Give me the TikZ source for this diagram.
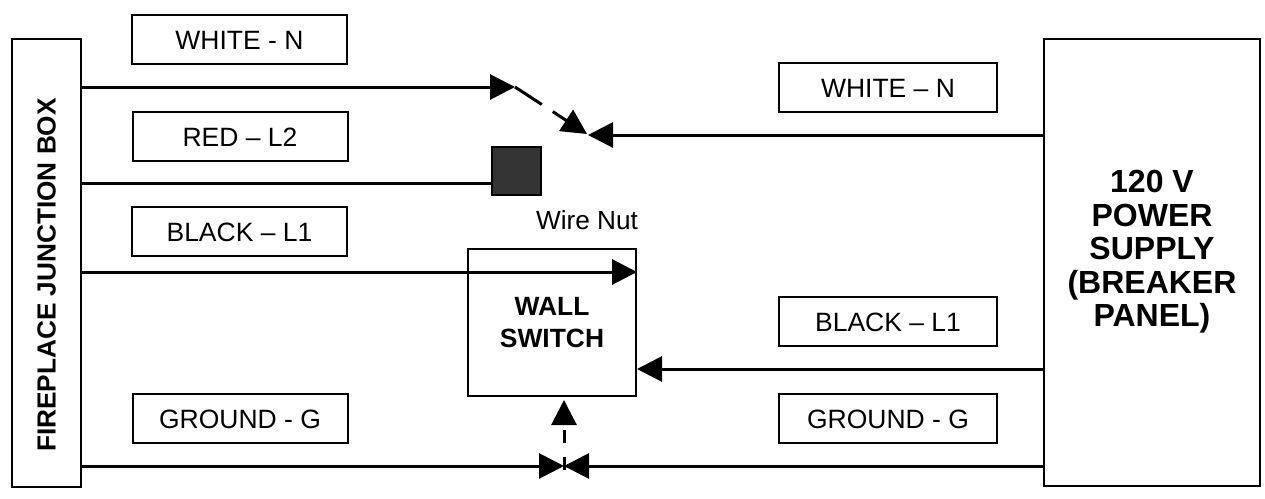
\documentclass[tikz,border=0pt]{standalone}
\usepackage{fontspec}
\setmainfont{Liberation Sans}
\usetikzlibrary{arrows.meta}
\begin{document}
\begin{tikzpicture}[x=1pt,y=-1pt,
  >={Triangle[length=25pt,width=25pt]},
  wire/.style={line width=3pt},
  lbl/.style={draw,line width=2pt,minimum width=215pt,minimum height=49pt,inner sep=0pt,
    font=\fontsize{26.5}{30}\selectfont,text height=20pt,text depth=0pt},
  bigbox/.style={draw,line width=2.3pt,inner sep=0pt},
  swbox/.style={draw,line width=2pt,inner sep=0pt,align=center,
    font=\fontsize{26.4}{32}\selectfont\bfseries},
  nutbox/.style={draw,line width=2pt,inner sep=0pt,fill={rgb,255:red,51;green,51;blue,51}},
]
\useasboundingbox (0,0) rectangle (1265,498);
% main boxes
\node[bigbox,minimum width=69pt,minimum height=448pt] (fjb) at (46.5,263) {};
\node[rotate=90,inner sep=0pt,font=\fontsize{26.2}{30}\selectfont\bfseries] (fjbt) at (46.5,275) {FIREPLACE JUNCTION BOX};
\node[bigbox,minimum width=216pt,minimum height=447pt] (ps) at (1152,262.5) {};
\node[anchor=north,inner sep=0pt,align=center,font=\fontsize{32}{33.5}\selectfont\bfseries] (pst) at (1152,170) {120 V\\POWER\\SUPPLY\\(BREAKER\\PANEL)};
\node[swbox,minimum width=168pt,minimum height=147pt] (sw) at (552,322.5) {WALL\\SWITCH};
\node[nutbox,minimum width=49pt,minimum height=48pt] (nut) at (516.5,171) {};
\node[anchor=base,inner sep=0pt,font=\fontsize{26.2}{30}\selectfont] (nutt) at (587,229) {Wire Nut};
% labels
\node[lbl] (l1) at (239.5,39.5) {WHITE - N};
\node[lbl] (l2) at (240,136) {RED -- L2};
\node[lbl] (l3) at (239.5,231.5) {BLACK -- L1};
\node[lbl] (l4) at (240,418) {GROUND - G};
\node[lbl,minimum width=218pt] (r1) at (888,87.5) {WHITE -- N};
\node[lbl,minimum width=218pt] (r2) at (888,321.5) {BLACK -- L1};
\node[lbl,minimum width=218pt] (r3) at (888,418) {GROUND - G};
% wires
\coordinate (wtip) at (515,87);
\coordinate (dtip) at (587,134);
\coordinate (rtip) at (588,135);
\coordinate (redy) at (0,183);
\coordinate (b1) at (0,272);
\coordinate (b2) at (0,369);
\coordinate (g) at (564,466);
\coordinate (gs) at (564,470);
\coordinate (gt) at (564,400);
\draw[wire,->] (fjb.east |- wtip) -- (wtip);
\draw[wire,dash pattern=on 32pt off 13pt,->] (wtip) -- (dtip);
\draw[wire,->] (ps.west |- rtip) -- (rtip);
\draw[wire] (fjb.east |- redy) -- (nut.west |- redy);
\draw[wire,->] (fjb.east |- b1) -- (sw.east |- b1);
\draw[wire,->] (ps.west |- b2) -- (sw.east |- b2);
\draw[wire,->] (fjb.east |- g) -- (g);
\draw[wire,->] (ps.west |- g) -- (g);
\draw[wire,dash pattern=on 13pt off 14pt,->] (gs) -- (gt);
\end{tikzpicture}
\end{document}
